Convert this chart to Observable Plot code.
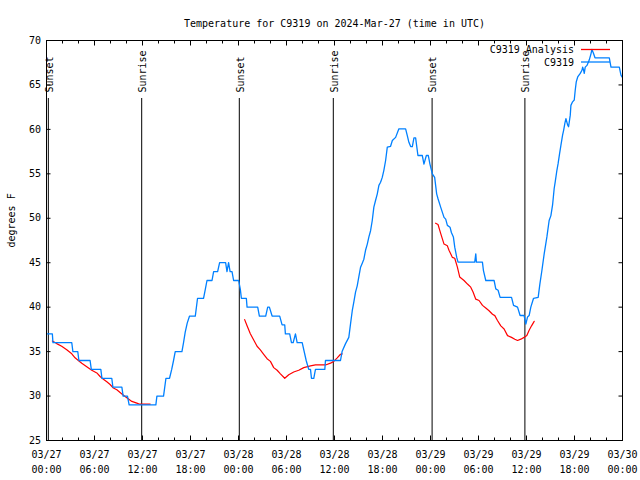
<!DOCTYPE html>
<html><head><meta charset="utf-8">
<script src="https://cdn.jsdelivr.net/npm/d3@7"></script>
<script src="https://cdn.jsdelivr.net/npm/@observablehq/plot@0.6"></script>
<style>
body{margin:0;background:#fff;}
#chart svg{display:block;}
</style></head><body><div id="chart"></div>
<script>
const startUTC = Date.UTC(2024, 2, 27);
const title = "Temperature for C9319 on 2024-Mar-27 (time in UTC)";
const yLabel = "degrees F";
const seriesNames = ["C9319 Analysis", "C9319"];
const seriesColors = ["#ff0000", "#0080ff"];

// Observed C9319 (hours since 03/27 00:00 UTC, degrees F)
const obsHours = [0.1,0.73,0.81,3.16,3.3,3.91,4.05,5.45,5.6,6.79,6.93,8.16,8.3,9.42,9.58,10.12,10.33,13.67,13.8,14.63,14.93,15.38,15.65,15.88,16.09,16.93,17.13,17.34,17.59,17.88,18.6,18.88,19.63,19.85,20.06,20.69,20.89,21.39,21.64,22.39,22.56,22.76,22.95,23.19,23.39,24.02,24.23,24.36,24.98,25.07,26.4,26.61,27.4,27.65,27.86,28.2,29.15,29.45,29.78,29.86,30.4,30.62,30.83,31.12,31.33,31.96,32.46,32.78,33.0,33.12,33.41,33.62,34.79,34.87,36.75,36.96,37.38,37.79,38.0,38.22,38.42,38.63,38.84,39.04,39.26,39.47,39.67,39.88,40.1,40.3,40.51,40.72,40.92,41.13,41.35,41.55,41.76,41.97,42.17,42.39,42.6,43.01,43.23,43.64,44.05,44.89,45.1,45.3,45.52,45.73,45.93,46.14,46.43,46.98,47.18,47.48,47.73,47.93,48.23,48.52,48.77,48.94,49.27,49.69,49.9,50.11,50.44,50.61,50.86,51.03,51.28,51.44,53.53,53.66,53.74,54.49,54.62,54.91,55.95,56.16,56.45,56.7,58.13,58.38,58.88,59.2,59.7,59.92,60.13,60.33,60.54,60.88,61.46,61.67,61.92,62.21,62.55,62.83,63.05,63.26,63.46,63.59,63.8,63.96,64.14,64.3,64.51,64.64,64.8,64.93,65.14,65.26,65.47,65.55,65.76,65.97,66.09,66.22,66.4,66.72,66.93,67.02,67.14,67.22,67.34,67.56,67.84,68.06,68.18,68.39,68.56,70.35,70.56,71.6,71.81,71.94];
const obsTemps = [37,37,36,36,35,35,34,34,33,33,32,32,31,31,30,30,29,29,30,30,32,32,33,34,35,35,36,37.2,38.2,39,39,41,41,42,43,43,44,44,45,45,44,45,44,44,43,43,42,41,41,40,40,39,39,40,40,39,39,38,38,37,37,36,36,37,36,36,34,33,33,32,32,33,33,34,34,35.05,35.9,36.6,38.1,39.6,40.6,41.7,42.4,43.4,44.5,44.95,45.4,46.4,47.1,47.9,48.6,49.75,51.25,52.0,52.75,53.7,54.06,54.6,55.4,56.5,58.0,58.1,58.75,59.1,60.06,60.06,59.3,58.55,58.07,58.07,59.05,59.05,57.06,57.06,56.1,57.06,57.06,56.1,55.0,54.6,52.75,52.2,51.25,50.1,49.9,49.2,49.0,48.4,47.9,46.75,45.6,45.06,45.06,46.0,45.06,45.06,44.1,43.0,43.0,42.06,41.9,41.1,41.1,40.2,40.0,39.06,39.06,38.1,38.9,39.06,40.0,41.0,41.1,42.6,44.1,46.0,47.9,49.75,50.3,51.5,53.35,54.1,55.4,56.2,57.3,58.2,59.35,59.9,60.7,61.2,60.5,60.3,61.6,62.7,63.1,63.3,64.4,65.35,65.9,66.3,66.65,67.0,66.65,66.3,67.0,67.2,67.8,68.5,69.0,68.5,68.05,68.05,67.0,67.0,66.1,65.9];

// Analysis (null = gap)
const anaHours = [0.73,1.28,1.9,2.53,3.16,3.57,3.98,4.41,5.03,5.66,6.29,6.7,7.11,7.54,7.95,8.36,8.79,9.2,9.62,10.04,10.67,11.29,11.58,12.33,12.96,null,24.77,25.07,25.48,25.9,26.32,26.73,27.15,27.57,27.99,28.4,28.83,29.24,29.78,30.28,30.9,31.53,32.16,33.0,33.62,34.25,34.87,35.5,35.91,36.34,36.75,36.96,null,48.64,48.94,49.27,49.69,50.11,50.31,50.74,51.03,51.36,51.65,52.19,52.62,53.03,53.32,53.66,54.07,54.5,54.91,55.32,55.75,56.04,56.37,56.79,57.2,57.63,58.13,58.54,58.88,59.29,59.7,60.04,60.33,60.63,60.96];
const anaTemps = [36.2,35.9,35.6,35.2,34.75,34.3,34.0,33.7,33.3,32.9,32.6,32.2,31.9,31.6,31.3,30.9,30.7,30.4,30.1,29.8,29.4,29.2,29.1,29.1,29.1,null,38.6,37.9,37.0,36.3,35.6,35.2,34.7,34.2,33.9,33.2,32.9,32.5,32.0,32.4,32.7,32.9,33.2,33.4,33.5,33.5,33.5,33.7,33.9,34.3,34.7,34.75,null,49.45,49.3,48.3,47.1,46.9,46.4,45.6,45.5,44.5,43.4,43.0,42.6,42.25,41.7,40.9,40.75,40.2,39.9,39.6,39.2,39.05,38.5,37.9,37.55,36.8,36.6,36.4,36.25,36.4,36.6,36.8,37.4,37.9,38.4];

// Sunrise / sunset events
const eventHours = [0.23, 11.9, 24.1, 35.85, 48.2, 59.8];
const eventNames = ["Sunset", "Sunrise", "Sunset", "Sunrise", "Sunset", "Sunrise"];

const yTicks = [25, 30, 35, 40, 45, 50, 55, 60, 65, 70];
const xMajorHours = [0, 6, 12, 18, 24, 30, 36, 42, 48, 54, 60, 66, 72];
const xMinorHours = d3.range(0, 73, 2);

const toDate = h => (h == null ? null : new Date(startUTC + h * 3600000));
const obs = obsHours.map((h, i) => ({t: toDate(h), v: obsTemps[i]}));
const ana = anaHours.map((h, i) => ({t: toDate(h), v: anaTemps[i]}));
const events = eventHours.map((h, i) => ({t: toDate(h), name: eventNames[i]}));
const majorDates = xMajorHours.map(toDate);
const minorDates = xMinorHours.map(toDate);

const font = "DejaVu Sans Mono";
const W = 640, H = 480, mL = 46, mR = 18, mT = 40, mB = 40;

const chart = Plot.plot({
  width: W, height: H,
  marginTop: mT, marginBottom: mB, marginLeft: mL, marginRight: mR,
  style: {fontFamily: font, fontSize: "10px", background: "#fff", color: "#000", overflow: "visible"},
  x: {type: "utc", domain: [toDate(0), toDate(72)]},
  y: {domain: [25, 70]},
  marks: [
    Plot.ruleX(events, {x: "t", stroke: "#000", strokeWidth: 1, insetTop: 58}),
    Plot.text(events, {x: "t", text: "name", frameAnchor: "top", rotate: -90, textAnchor: "start", lineAnchor: "middle", dy: 52, dx: 1, fill: "#000"}),
    Plot.line(ana, {x: "t", y: "v", stroke: seriesColors[0], strokeWidth: 1.2}),
    Plot.line(obs, {x: "t", y: "v", stroke: seriesColors[1], strokeWidth: 1.3}),
    Plot.frame({stroke: "#000"}),
    Plot.axisX(minorDates, {anchor: "bottom", tickSize: -2.5, text: null, label: null}),
    Plot.axisX(minorDates, {anchor: "top", tickSize: -2.5, text: null, label: null}),
    Plot.axisX(majorDates, {anchor: "bottom", tickSize: -4.5, tickPadding: 11, lineHeight: 1.5,
      tickFormat: d3.utcFormat("%m/%d\n%H:%M"), label: null}),
    Plot.axisX(majorDates, {anchor: "top", tickSize: -4.5, text: null, label: null}),
    Plot.axisY(yTicks, {anchor: "left", tickSize: -4.5, tickPadding: 10, label: null}),
    Plot.axisY(yTicks, {anchor: "right", tickSize: -4.5, text: null, label: null}),
    Plot.text([title], {frameAnchor: "top", dy: -21, fill: "#000"}),
    Plot.text([yLabel], {frameAnchor: "left", rotate: -90, dx: -35, dy: 7, fill: "#000"})
  ]
});
document.getElementById("chart").appendChild(chart);

// legend inside the frame, top-right
const svg = d3.select(chart);
const right = W - mR;
const lg = svg.append("g").attr("font-family", font).attr("font-size", 10);
seriesNames.forEach((name, i) => {
  const yy = mT + 10 + i * 12.5;
  lg.append("text").attr("x", right - 48).attr("y", yy).attr("dy", "0.32em")
    .attr("text-anchor", "end").attr("fill", "#000").text(name);
  lg.append("line").attr("x1", right - 41).attr("x2", right - 12)
    .attr("y1", yy - 0.5).attr("y2", yy - 0.5)
    .attr("stroke", seriesColors[i]).attr("stroke-width", 1.3);
});
</script></body></html>
